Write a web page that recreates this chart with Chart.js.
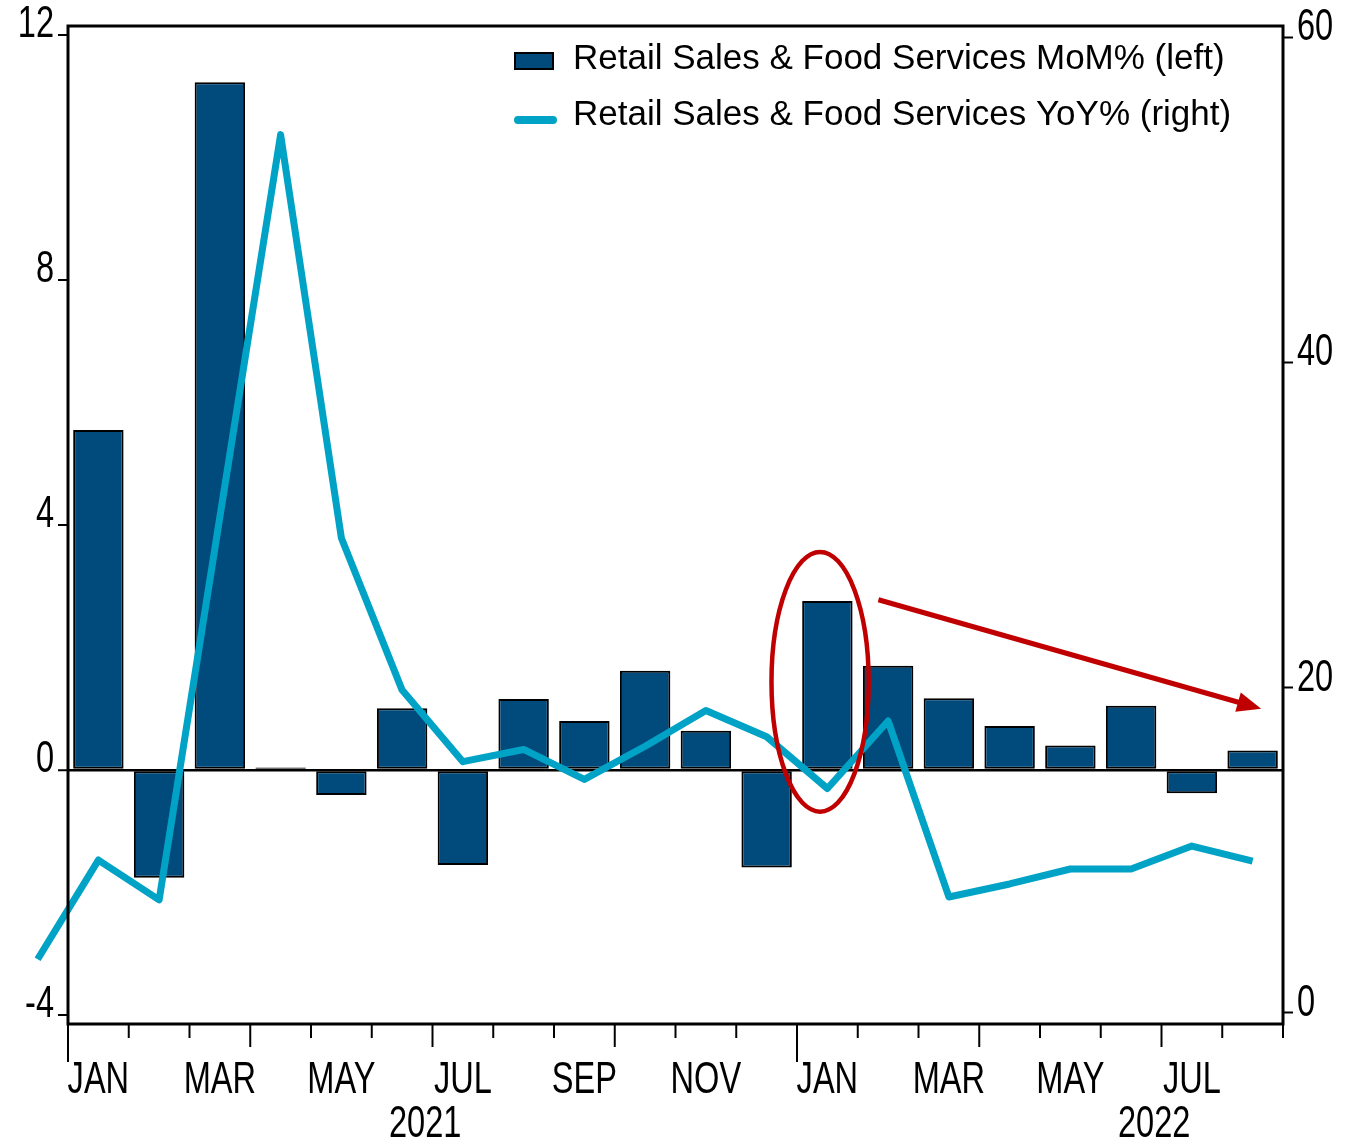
<!DOCTYPE html>
<html>
<head>
<meta charset="utf-8">
<script src="https://cdn.jsdelivr.net/npm/chart.js@4/dist/chart.umd.min.js"></script>
<style>
  html, body { margin: 0; padding: 0; background: #fff; }
  #wrap { width: 1348px; height: 1142px; position: relative; }
</style>
</head>
<body>
<div id="wrap"><canvas id="retailChart"></canvas></div>
<script>
// Months shown (Dec 2020 only feeds the line, which runs off the left edge)
const months = ['DEC', 'JAN', 'FEB', 'MAR', 'APR', 'MAY', 'JUN', 'JUL', 'AUG', 'SEP', 'OCT', 'NOV', 'DEC',
                'JAN', 'FEB', 'MAR', 'APR', 'MAY', 'JUN', 'JUL', 'AUG'];
const years = [2020, 2021, 2021, 2021, 2021, 2021, 2021, 2021, 2021, 2021, 2021, 2021, 2021,
               2022, 2022, 2022, 2022, 2022, 2022, 2022, 2022];

// Retail Sales & Food Services, MoM % (left axis)
const momPct = [null, 5.55, -1.76, 11.23, 0.04, -0.41, 1.01, -1.55, 1.16, 0.80, 1.62, 0.64, -1.59,
                2.76, 1.70, 1.17, 0.72, 0.40, 1.05, -0.38, 0.32];
// Retail Sales & Food Services, YoY % (right axis)
const yoyPct = [3.3, 9.4, 6.95, 30.5, 54.0, 29.2, 19.85, 15.45, 16.2, 14.36, 16.4, 18.6, 16.98,
                13.8, 17.95, 7.13, 7.93, 8.85, 8.85, 10.26, 9.34];

const seriesLabels = ['Retail Sales & Food Services MoM% (left)', 'Retail Sales & Food Services YoY% (right)'];

const leftTicks = [-4, 0, 4, 8, 12];
const rightTicks = [0, 20, 40, 60];

const BAR_COLOR = '#004A7C';
const LINE_COLOR = '#00A3C6';
const RED = '#C00000';
const FONT = "'Liberation Sans', Arial, sans-serif";
const AXIS_FONT = '44px ' + FONT;
const SQUEEZE = 0.74;   // axis labels are set in a condensed face

// draw text squeezed horizontally, baseline at y
function drawCondensed(ctx, text, x, y, align) {
    ctx.save();
    ctx.translate(x, y);
    ctx.scale(SQUEEZE, 1);
    ctx.textAlign = align;
    ctx.textBaseline = 'alphabetic';
    ctx.fillText(text, 0, 0);
    ctx.restore();
}

/**
 * Frame around the plot, month tick marks, axis labels
 */
const framePlugin = {
    id: 'frame',
    afterDatasetsDraw(chart) {
        const { ctx, chartArea: a, scales } = chart;
        const x = scales.x;
        ctx.save();
        ctx.strokeStyle = '#000';
        ctx.lineWidth = 3;
        ctx.strokeRect(a.left, a.top, a.right - a.left, a.bottom - a.top);

        // tick marks on month boundaries: long at year start, medium at quarter start
        const half = (x.getPixelForValue(2) - x.getPixelForValue(1)) / 2;
        ctx.lineWidth = 2;
        for (let i = 1; i <= months.length; i++) {
            const px = x.getPixelForValue(i) - half;
            const m = months[i] || 'SEP';
            let len = 14;
            if (m === 'JAN') len = 38;
            else if (m === 'APR' || m === 'JUL' || m === 'OCT') len = 23;
            ctx.beginPath();
            ctx.moveTo(px, a.bottom);
            ctx.lineTo(px, a.bottom + len);
            ctx.stroke();
        }

        ctx.fillStyle = '#000';
        ctx.font = AXIS_FONT;

        // month labels every other month, year labels near July 1
        months.forEach((m, i) => {
            if (i % 2 === 1) drawCondensed(ctx, m, x.getPixelForValue(i), a.bottom + 69, 'center');
            if (m === 'JUL') drawCondensed(ctx, String(years[i]), x.getPixelForValue(i - 0.62), a.bottom + 113, 'center');
        });

        // value labels sit just above their tick marks
        const yl = scales.yLeft, yr = scales.yRight;
        leftTicks.forEach(v => drawCondensed(ctx, String(v), a.left - 14, yl.getPixelForValue(v) + 2, 'right'));
        rightTicks.forEach(v => drawCondensed(ctx, String(v), a.right + 14, yr.getPixelForValue(v) + 3, 'left'));
        ctx.restore();
    }
};

/**
 * Legend in the top right of the plot
 */
const legendPlugin = {
    id: 'insideLegend',
    afterDraw(chart) {
        const ctx = chart.ctx;
        ctx.save();
        ctx.fillStyle = BAR_COLOR;
        ctx.strokeStyle = '#000';
        ctx.lineWidth = 2;
        ctx.fillRect(515, 53, 38, 16);
        ctx.strokeRect(515, 53, 38, 16);

        ctx.strokeStyle = LINE_COLOR;
        ctx.lineWidth = 8;
        ctx.lineCap = 'round';
        ctx.beginPath();
        ctx.moveTo(518, 120);
        ctx.lineTo(553, 120);
        ctx.stroke();

        ctx.fillStyle = '#000';
        ctx.font = '35px ' + FONT;
        ctx.textAlign = 'left';
        ctx.textBaseline = 'alphabetic';
        ctx.fillText(seriesLabels[0], 573, 69);
        ctx.fillText(seriesLabels[1], 573, 125);
        ctx.restore();
    }
};

/**
 * Red ellipse round Jan 2022 and the falling arrow after it
 */
const annotationPlugin = {
    id: 'redMarks',
    afterDraw(chart) {
        const { ctx, scales } = chart;
        const x = scales.x, y = scales.yLeft;
        ctx.save();
        ctx.strokeStyle = RED;
        ctx.fillStyle = RED;

        // ellipse
        const cx = x.getPixelForValue(12.88);
        const cy = y.getPixelForValue(1.44);
        const rx = x.getPixelForValue(13.68) - x.getPixelForValue(12.88);
        const ry = y.getPixelForValue(1.44) - y.getPixelForValue(3.56);
        ctx.lineWidth = 4.5;
        ctx.beginPath();
        ctx.ellipse(cx, cy, rx, ry, 0, 0, Math.PI * 2);
        ctx.stroke();

        // arrow
        const x1 = x.getPixelForValue(13.84), y1 = y.getPixelForValue(2.78);
        const x2 = x.getPixelForValue(20.14), y2 = y.getPixelForValue(1.0);
        const ang = Math.atan2(y2 - y1, x2 - x1);
        const headLen = 24, headW = 10;
        const bx = x2 - headLen * Math.cos(ang), by = y2 - headLen * Math.sin(ang);
        ctx.lineWidth = 5;
        ctx.beginPath();
        ctx.moveTo(x1, y1);
        ctx.lineTo(bx + 4 * Math.cos(ang), by + 4 * Math.sin(ang));
        ctx.stroke();
        ctx.beginPath();
        ctx.moveTo(x2, y2);
        ctx.lineTo(bx + headW * Math.sin(ang), by - headW * Math.cos(ang));
        ctx.lineTo(bx - headW * Math.sin(ang), by + headW * Math.cos(ang));
        ctx.closePath();
        ctx.fill();
        ctx.restore();
    }
};

const ctx = document.getElementById('retailChart').getContext('2d');

new Chart(ctx, {
    type: 'bar',
    data: {
        labels: months,
        datasets: [{
            type: 'bar',
            label: seriesLabels[0],
            data: momPct,
            yAxisID: 'yLeft',
            backgroundColor: BAR_COLOR,
            borderColor: '#000',
            borderWidth: 2,
            borderSkipped: false,
            barPercentage: 0.83,
            categoryPercentage: 1,
            order: 1
        }, {
            type: 'line',
            label: seriesLabels[1],
            data: yoyPct,
            yAxisID: 'yRight',
            borderColor: LINE_COLOR,
            borderWidth: 7,
            borderJoinStyle: 'round',
            pointRadius: 0,
            tension: 0,
            clip: false,
            order: 0
        }]
    },
    options: {
        responsive: true,
        maintainAspectRatio: false,
        animation: false,
        layout: { padding: { top: 26, left: 0, right: 0, bottom: 0 } },
        plugins: {
            legend: { display: false },
            tooltip: { enabled: false }
        },
        scales: {
            x: {
                type: 'category',
                min: 1,
                max: months.length - 1,
                offset: true,
                border: { display: false },
                grid: { display: false, drawTicks: false },
                ticks: { display: false },
                afterFit: function(scale) { scale.height = 118; }
            },
            yLeft: {
                position: 'left',
                min: -4.147,
                max: 12.147,
                border: { display: false },
                grid: {
                    drawOnChartArea: true,
                    drawTicks: true,
                    tickLength: 10,
                    tickWidth: 2,
                    tickColor: '#000',
                    color: '#000',
                    lineWidth: c => (c.tick && c.tick.value === 0 ? 2.5 : 0)
                },
                ticks: { display: false },
                afterBuildTicks: function(scale) {
                    scale.ticks = leftTicks.map(v => ({ value: v }));
                },
                afterFit: function(scale) { scale.width = 68; }
            },
            yRight: {
                position: 'right',
                min: -0.68,
                max: 60.68,
                border: { display: false },
                grid: {
                    drawOnChartArea: false,
                    drawTicks: true,
                    tickLength: 10,
                    tickWidth: 2,
                    tickColor: '#000'
                },
                ticks: { display: false },
                afterBuildTicks: function(scale) {
                    scale.ticks = rightTicks.map(v => ({ value: v }));
                },
                afterFit: function(scale) { scale.width = 65; }
            }
        }
    },
    plugins: [framePlugin, legendPlugin, annotationPlugin]
});
</script>
</body>
</html>
